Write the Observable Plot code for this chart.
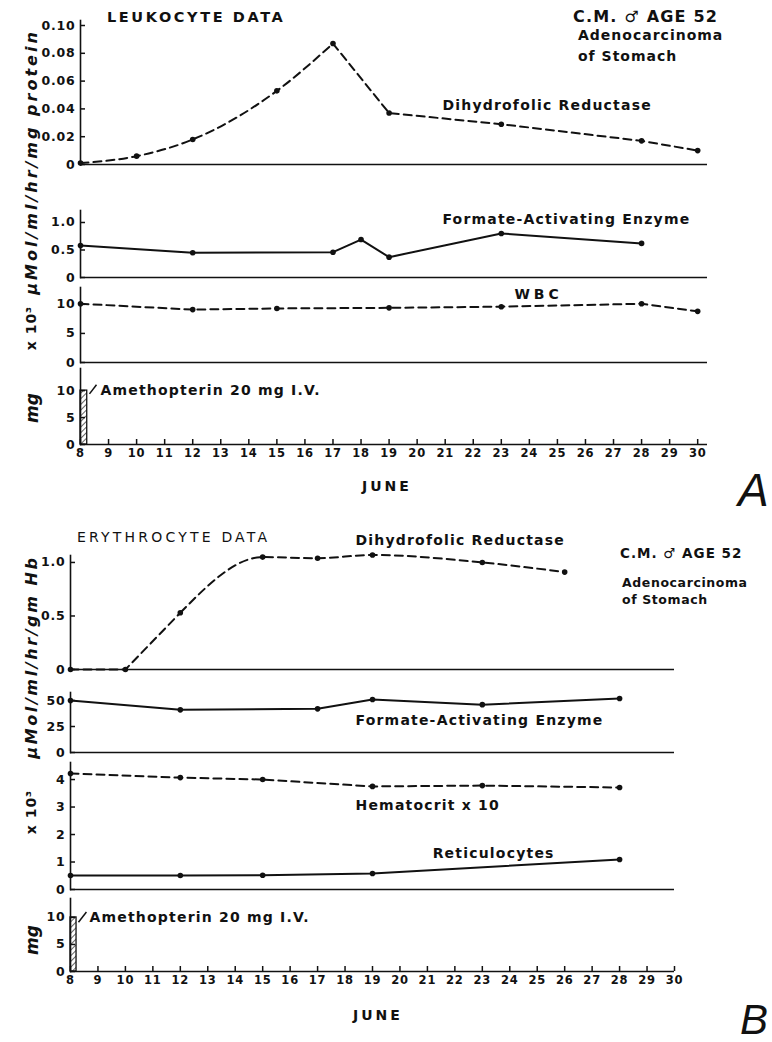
<!DOCTYPE html>
<html><head><meta charset="utf-8">
<script src="https://cdn.jsdelivr.net/npm/d3@7"></script>
<script src="https://cdn.jsdelivr.net/npm/@observablehq/plot@0.6"></script>
<style>
body{margin:0;background:#fff;}
#fig{position:relative;width:772px;height:1042px;font-family:"DejaVu Sans",sans-serif;color:#111;overflow:hidden;background:#fff;}
#fig svg{position:absolute;left:0;overflow:visible;}
#fig svg text{letter-spacing:0.8px;}
#fig svg text.slab{letter-spacing:1.2px;}
.lab{position:absolute;white-space:nowrap;font-weight:bold;transform:translateY(-50%);}
.yt{position:absolute;white-space:nowrap;font-weight:bold;font-style:italic;transform:translate(-50%,-50%) rotate(-90deg);}
</style></head><body><div id="fig"></div>
<script>
// ---------- data ----------
const days = d3.range(8, 31); // June 8 .. 30 tick labels

// A: leukocyte data
const leukDhfrDays = [8, 10, 12, 15, 17, 19, 23, 28, 30];
const leukDhfr     = [0.001, 0.006, 0.018, 0.053, 0.087, 0.037, 0.029, 0.017, 0.010];
const leukFaeDays  = [8, 12, 17, 18, 19, 23, 28];
const leukFae      = [0.58, 0.45, 0.46, 0.69, 0.37, 0.80, 0.62];
const wbcDays      = [8, 12, 15, 19, 23, 28, 30];
const wbc          = [10.1, 9.1, 9.3, 9.4, 9.6, 10.1, 8.8];
const doseDays     = [8];
const doseMg       = [10];

// B: erythrocyte data
const eryDhfrDays  = [8, 10, 12, 15, 17, 19, 23, 26];
const eryDhfr      = [0, 0, 0.53, 1.05, 1.04, 1.07, 1.00, 0.91];
const eryFaeDays   = [8, 12, 17, 19, 23, 28];
const eryFae       = [50, 41, 42, 51, 46, 52];
const hctDays      = [8, 12, 15, 19, 23, 28];
const hct          = [4.22, 4.07, 4.00, 3.75, 3.78, 3.71];
const retDays      = [8, 12, 15, 19, 28];
const retic        = [0.51, 0.51, 0.52, 0.58, 1.09];

// tick values
const ticksA1 = [0, 0.02, 0.04, 0.06, 0.08, 0.10];
const ticksHalf = [0, 0.5, 1.0];
const ticks5 = [0, 5, 10];
const ticks25 = [0, 25, 50];
const ticks1 = [0, 1, 2, 3, 4];

// ---------- helpers ----------
const fig = document.getElementById("fig");
const ink = "#111";
const tbl = (xs, ys) => xs.map((d, i) => ({day: d, v: ys[i]}));
const lineOf = (data, dashed, curve = "linear") =>
  Plot.line(data, {x: "day", y: "v", stroke: ink, strokeWidth: 2, strokeDasharray: dashed ? "8,5" : null, curve});
const dotsOf = data => Plot.dot(data, {x: "day", y: "v", r: 2.8, fill: ink});
const series = (data, dashed, curve = "linear") => [lineOf(data, dashed, curve), dotsOf(data)];
const label = (day, v, text, anchor = "start") =>
  Plot.text([{day, v, text}], {x: "day", y: "v", text: "text", textAnchor: anchor, fontSize: 14, fontWeight: "bold", fill: ink});
const fmtNum = (digits) => d => d === 0 ? "0" : d.toFixed(digits);
const labels = ["Dihydrofolic Reductase", "Formate-Activating Enzyme", "Amethopterin 20 mg I.V.", "Hematocrit x 10", "Reticulocytes"];

function panel({top, topPx, zeroPx, ymax, xd, ml, mr, ticks, fmt, marks, xaxis, hatch}) {
  const mt = topPx - top;
  const mb = xaxis ? 34 : 6;
  const height = zeroPx - top + mb;
  const p = Plot.plot({
    width: 772, height, marginTop: mt, marginBottom: mb, marginLeft: ml, marginRight: mr,
    x: xaxis ? {domain: xd} : {domain: xd, axis: null},
    y: {domain: [0, ymax]},
    style: {fontFamily: "DejaVu Sans", fontSize: "12px", fontWeight: "bold", color: ink, background: "transparent", overflow: "visible"},
    marks: [
      Plot.frame({anchor: "left", strokeWidth: 1.6, stroke: ink}),
      Plot.ruleY([0], {strokeWidth: 1.6, stroke: ink}),
      Plot.axisY({ticks, tickFormat: fmt, tickSize: -5, tickPadding: 10, strokeWidth: 1.5, label: null, fontSize: 12.5}),
      ...(xaxis ? [Plot.axisX({ticks: days, tickFormat: d => String(d), tickSize: -5, tickPadding: 9, strokeWidth: 1.5, label: null, fontSize: 11.5})] : []),
      ...marks
    ]
  });
  if (hatch) {
    d3.select(p).insert("defs", ":first-child").html(
      `<pattern id="${hatch}" patternUnits="userSpaceOnUse" width="4" height="4" patternTransform="rotate(45)"><line x1="0" y1="0" x2="0" y2="4" stroke="${ink}" stroke-width="1.3"/></pattern>`);
  }
  d3.select(p).selectAll("text").filter(function(){return labels.includes(this.textContent);}).classed("slab", true);
  p.style.top = top + "px";
  fig.appendChild(p);
  return p;
}
function html(cls, x, y, text, css = "") {
  const el = document.createElement("div");
  el.className = cls; el.textContent = text;
  el.style.cssText = `left:${x}px;top:${y}px;${css}`;
  fig.appendChild(el);
}

// ---------- Figure A ----------
const xA = [8, 30.35], mlA = 80, mrA = 65;
const leukD = tbl(leukDhfrDays, leukDhfr);
const peak = leukDhfrDays.indexOf(17);
panel({top: 0, topPx: 20, zeroPx: 164, ymax: 0.1036, xd: xA, ml: mlA, mr: mrA, ticks: ticksA1, fmt: fmtNum(2),
  marks: [lineOf(leukD.slice(0, peak + 1), true, "monotone-x"), lineOf(leukD.slice(peak), true), dotsOf(leukD),
    label(20.9, 0.0424, "Dihydrofolic Reductase")]});
panel({top: 198, topPx: 210, zeroPx: 277, ymax: 1.218, xd: xA, ml: mlA, mr: mrA, ticks: ticksHalf, fmt: fmtNum(1),
  marks: [...series(tbl(leukFaeDays, leukFae), false), label(20.9, 1.055, "Formate-Activating Enzyme")]});
const pA3 = panel({top: 278, topPx: 287, zeroPx: 362, ymax: 12.9, xd: xA, ml: mlA, mr: mrA, ticks: ticks5, fmt: fmtNum(0),
  marks: [...series(tbl(wbcDays, wbc), true), label(24.33, 11.7, "WBC", "middle")]});
d3.select(pA3).selectAll("text").filter(function(){return this.textContent === "WBC";}).style("letter-spacing", "4px");
panel({top: 360, topPx: 368, zeroPx: 444, ymax: 14.1, xd: xA, ml: mlA, mr: mrA, ticks: ticks5, fmt: fmtNum(0), xaxis: true, hatch: "hatchA",
  marks: [
    Plot.rectY(tbl(doseDays, doseMg), {x1: "day", x2: d => d.day + 0.24, y: "v", fill: "url(#hatchA)", stroke: ink, strokeWidth: 1.3}),
    Plot.link([{x1: 8.32, y1: 9.4, x2: 8.57, y2: 11.1}], {x1: "x1", y1: "y1", x2: "x2", y2: "y2", stroke: ink, strokeWidth: 1.5}),
    label(8.71, 10, "Amethopterin 20 mg I.V.")
  ]});

// ---------- Figure B ----------
const xB = [8, 30], mlB = 70, mrB = 98;
const eryD = tbl(eryDhfrDays, eryDhfr);
const rise = eryDhfrDays.indexOf(12);
panel({top: 528, topPx: 555, zeroPx: 669, ymax: 1.065, xd: xB, ml: mlB, mr: mrB, ticks: ticksHalf, fmt: fmtNum(1),
  marks: [lineOf(eryD.slice(0, rise + 1), true), lineOf(eryD.slice(rise), true, "monotone-x"), dotsOf(eryD),
    label(18.38, 1.206, "Dihydrofolic Reductase")]});
panel({top: 683, topPx: 692, zeroPx: 752, ymax: 57.7, xd: xB, ml: mlB, mr: mrB, ticks: ticks25, fmt: fmtNum(0),
  marks: [...series(tbl(eryFaeDays, eryFae), false), label(18.38, 30.8, "Formate-Activating Enzyme")]});
panel({top: 754, topPx: 762, zeroPx: 889, ymax: 4.62, xd: xB, ml: mlB, mr: mrB, ticks: ticks1, fmt: fmtNum(0),
  marks: [...series(tbl(hctDays, hct), true), ...series(tbl(retDays, retic), false),
    label(18.38, 3.05, "Hematocrit x 10"), label(21.19, 1.31, "Reticulocytes")]});
panel({top: 890, topPx: 898, zeroPx: 971, ymax: 13.5, xd: xB, ml: mlB, mr: mrB, ticks: ticks5, fmt: fmtNum(0), xaxis: true, hatch: "hatchB",
  marks: [
    Plot.rectY(tbl(doseDays, doseMg), {x1: "day", x2: d => d.day + 0.22, y: "v", fill: "url(#hatchB)", stroke: ink, strokeWidth: 1.3}),
    Plot.link([{x1: 8.29, y1: 9.1, x2: 8.58, y2: 11}], {x1: "x1", y1: "y1", x2: "x2", y2: "y2", stroke: ink, strokeWidth: 1.5}),
    label(8.69, 10, "Amethopterin 20 mg I.V.")
  ]});

// ---------- headings & titles ----------
html("lab", 107, 17, "LEUKOCYTE DATA", "font-size:14.5px;letter-spacing:2.6px;");
html("lab", 573, 16, "C.M. ♂ AGE 52", "font-size:16px;letter-spacing:1.2px;");
html("lab", 578, 35, "Adenocarcinoma", "font-size:14px;letter-spacing:1px;");
html("lab", 578, 56, "of Stomach", "font-size:14px;letter-spacing:1px;");
html("lab", 362, 486, "JUNE", "font-size:14px;letter-spacing:3px;");
html("lab", 738, 490, "A", "font-size:46px;font-style:italic;font-weight:normal;font-family:'Liberation Sans';");

html("lab", 77, 537, "ERYTHROCYTE DATA", "font-size:14px;letter-spacing:3.2px;font-weight:normal;");
html("lab", 620, 553, "C.M. ♂ AGE 52", "font-size:13.5px;letter-spacing:1px;");
html("lab", 622, 582, "Adenocarcinoma", "font-size:12.5px;letter-spacing:0.6px;");
html("lab", 622, 599, "of Stomach", "font-size:12.5px;letter-spacing:0.6px;");
html("lab", 353, 1015, "JUNE", "font-size:14px;letter-spacing:3px;");
html("lab", 740, 1020, "B", "font-size:42px;font-style:italic;font-weight:normal;font-family:'Liberation Sans';");

html("yt", 31, 162, "µMol/ml/hr/mg protein", "font-size:16px;letter-spacing:3px;");
html("yt", 31, 328, "x 10³", "font-size:14px;letter-spacing:1px;font-style:normal;");
html("yt", 32, 408, "mg", "font-size:17px;");
html("yt", 31, 657, "µMol/ml/hr/gm Hb", "font-size:16px;letter-spacing:2.6px;");
html("yt", 31, 812, "x 10³", "font-size:14px;letter-spacing:1px;font-style:normal;");
html("yt", 32, 940, "mg", "font-size:17px;");
</script></body></html>
